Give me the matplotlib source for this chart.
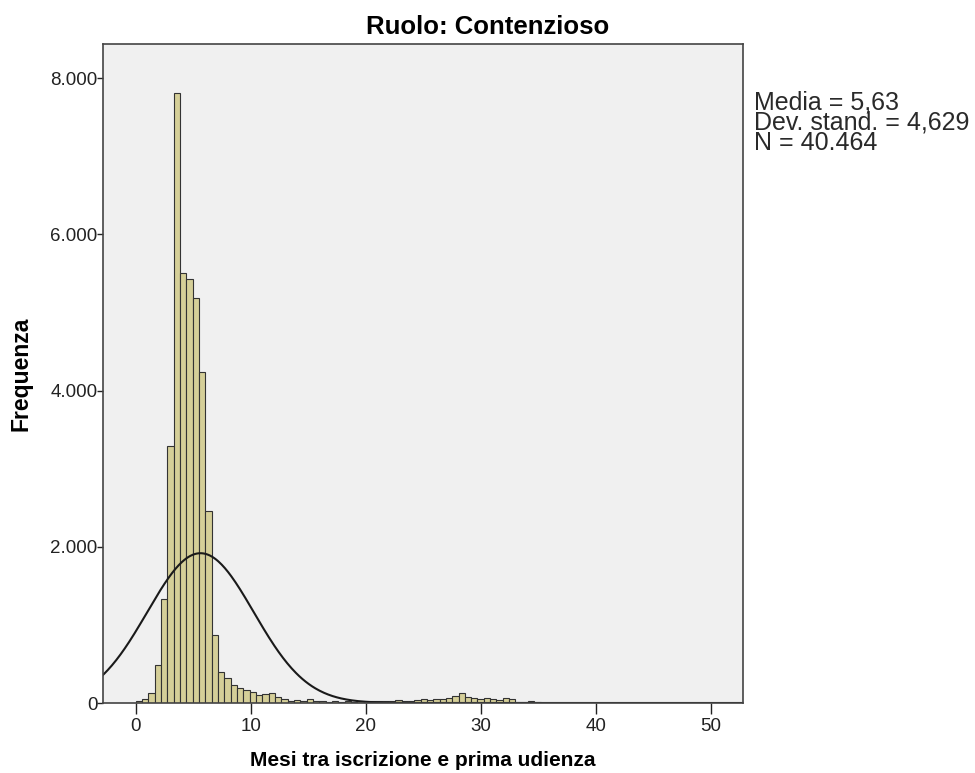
import numpy as np
import matplotlib
matplotlib.use("Agg")
import matplotlib.pyplot as plt
from matplotlib.ticker import FuncFormatter

# Histogram data (bin width ~0.55 months, starting at 0)
bin_width = 0.55
bin_start = 0.0
counts = [
    26, 51, 132, 486, 1335, 3294, 7812, 5508, 5427, 5188,
    4237, 2462, 870, 397, 320, 230, 198, 166, 137, 102,
    111, 132, 81, 51, 30, 40, 28, 45, 25, 28,
    18, 22, 15, 25, 18, 22, 28, 25, 32, 28,
    25, 35, 32, 28, 40, 45, 38, 55, 50, 65,
    85, 130, 75, 62, 55, 65, 48, 38, 60, 55,
    15, 12, 32, 8, 5, 4, 3, 4, 3, 2,
    3, 2, 2, 3, 2, 2, 1, 2, 1, 2,
    1, 1, 2, 1, 1, 1, 1, 1, 1, 1,
]
mean_val = 5.63
sd_val = 4.629
n_val = 40464

x_ticks = [0, 10, 20, 30, 40, 50]
y_ticks = [0, 2000, 4000, 6000, 8000]

title = "Ruolo: Contenzioso"
xlabel = "Mesi tra iscrizione e prima udienza"
ylabel = "Frequenza"
stats_text = "Media = 5,63\nDev. stand. = 4,629\nN = 40.464"

plt.rcParams['font.family'] = ['Liberation Sans', 'DejaVu Sans']

fig = plt.figure(figsize=(9.75, 7.73), dpi=100)
ax = fig.add_axes([103/975, (773-703)/773, 640/975, (703-44)/773])
ax.set_facecolor('#F0F0F0')

edges = bin_start + bin_width * np.arange(len(counts))
ax.bar(edges, counts, width=bin_width, align='edge',
       color='#D5CF98', edgecolor='#333333', linewidth=0.8)

xs = np.linspace(-3, 53, 600)
curve = n_val * bin_width * np.exp(-0.5 * ((xs - mean_val) / sd_val) ** 2) / (sd_val * np.sqrt(2 * np.pi))
ax.plot(xs, curve, color='#1a1a1a', linewidth=1.5)

ax.set_xlim(-2.84, 52.77)
ax.set_ylim(0, 8438)
ax.set_xticks(x_ticks)
ax.set_yticks(y_ticks)
ax.yaxis.set_major_formatter(FuncFormatter(lambda v, p: f"{int(v):,}".replace(",", ".")))
ax.tick_params(axis='both', direction='out', width=1, labelsize=13.5, colors='#222222')
ax.tick_params(axis='x', length=8, pad=3)
ax.tick_params(axis='y', length=4, pad=0)
for s in ax.spines.values():
    s.set_color('#444444')
    s.set_linewidth(1.2)

fig.text(0.5, 1 - 27/773, title, fontsize=18.5, fontweight='bold', ha='center', va='center')
ax.set_xlabel(xlabel, fontsize=15, fontweight='bold', labelpad=11)
ax.set_ylabel(ylabel, fontsize=16.5, fontweight='bold', labelpad=13)

ax.text(1.017, 0.929, stats_text, transform=ax.transAxes, ha='left', va='top',
        fontsize=18, linespacing=0.8, color='#2a2a2a')

fig.savefig('out.png', dpi=100, facecolor='white')
